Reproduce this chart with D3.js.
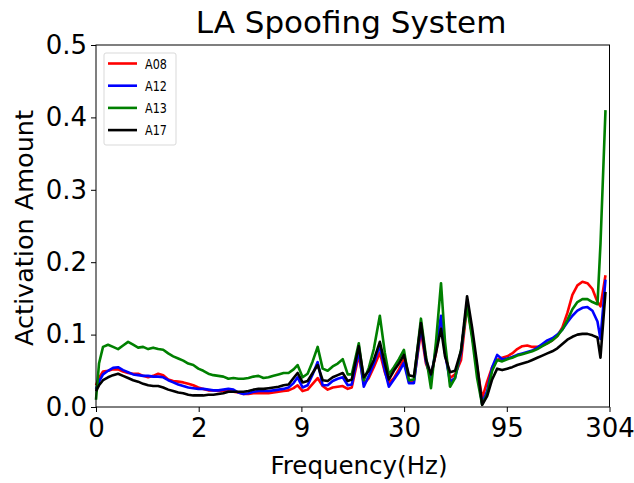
<!DOCTYPE html>
<html><head><meta charset="utf-8">
<script src="https://cdn.jsdelivr.net/npm/d3@7"></script>
<style>body{margin:0;background:#fff}svg{display:block}text{font-family:"DejaVu Sans",sans-serif;fill:#000}</style>
</head><body><svg id="c" width="634" height="483"></svg>
<script>
const bins = [0,1.5,3.5,6,8.5,11,13.5,16,18.5,21,23.5,26,28.5,31,33.5,36,38.5,41,43.5,46,48.5,51,53.5,56,58.5,61,63.5,66,68.5,71,73.5,76,78.5,81,83.5,86,88.5,91,93.5,96,98.5,100.5,103,105.5,108,110.5,113,115.5,118,120.5,123,125.5,127.5,131,133.5,136,138.5,141.5,144,146,148.5,151,153.5,156,158.5,162,164.5,167,169.5,172,174,176.5,179,182,185,187.5,190,192.5,195,197.5,200,202.5,205,207.5,210,212.5,215,217.5,220,222.5,225,227.5,230,232.5,235,237.5,240,242.5,245,247.5,250,251.5,254];
const a08 = [0.030,0.040,0.049,0.050,0.052,0.052,0.049,0.047,0.046,0.046,0.043,0.041,0.043,0.046,0.044,0.038,0.036,0.035,0.034,0.032,0.030,0.027,0.025,0.023,0.023,0.022,0.022,0.022,0.021,0.020,0.018,0.018,0.019,0.019,0.019,0.019,0.020,0.021,0.022,0.023,0.026,0.030,0.022,0.024,0.032,0.040,0.029,0.024,0.027,0.028,0.029,0.025,0.027,0.072,0.032,0.040,0.055,0.075,0.048,0.033,0.040,0.052,0.066,0.035,0.036,0.105,0.060,0.042,0.075,0.120,0.075,0.040,0.045,0.065,0.140,0.100,0.055,0.012,0.035,0.055,0.065,0.068,0.070,0.074,0.080,0.084,0.085,0.083,0.083,0.085,0.088,0.092,0.098,0.110,0.130,0.155,0.168,0.173,0.171,0.163,0.145,0.139,0.182];
const a12 = [0.025,0.035,0.045,0.050,0.054,0.055,0.051,0.048,0.045,0.044,0.043,0.043,0.042,0.042,0.041,0.037,0.034,0.031,0.029,0.027,0.026,0.025,0.025,0.024,0.023,0.023,0.024,0.025,0.024,0.020,0.018,0.019,0.021,0.022,0.022,0.022,0.023,0.024,0.025,0.027,0.033,0.041,0.027,0.030,0.045,0.062,0.030,0.030,0.036,0.039,0.041,0.030,0.031,0.078,0.028,0.043,0.060,0.085,0.050,0.028,0.038,0.048,0.061,0.033,0.033,0.112,0.063,0.040,0.080,0.126,0.075,0.035,0.040,0.075,0.145,0.100,0.050,0.005,0.022,0.055,0.072,0.066,0.067,0.069,0.072,0.074,0.076,0.078,0.082,0.087,0.092,0.095,0.100,0.107,0.117,0.126,0.133,0.137,0.138,0.133,0.118,0.094,0.176];
const a13 = [0.010,0.060,0.083,0.086,0.083,0.080,0.085,0.090,0.086,0.082,0.083,0.080,0.082,0.080,0.079,0.074,0.070,0.067,0.064,0.060,0.058,0.053,0.050,0.046,0.044,0.043,0.042,0.039,0.040,0.039,0.039,0.040,0.042,0.043,0.040,0.041,0.043,0.045,0.047,0.047,0.052,0.058,0.041,0.046,0.063,0.083,0.053,0.050,0.056,0.060,0.066,0.045,0.045,0.088,0.037,0.054,0.080,0.126,0.075,0.045,0.055,0.066,0.079,0.037,0.038,0.122,0.070,0.026,0.090,0.171,0.090,0.028,0.040,0.079,0.140,0.095,0.040,0.003,0.018,0.050,0.065,0.063,0.066,0.068,0.071,0.073,0.075,0.077,0.080,0.084,0.088,0.092,0.098,0.107,0.120,0.135,0.145,0.149,0.149,0.145,0.142,0.225,0.410];
const a17 = [0.022,0.030,0.037,0.041,0.044,0.046,0.043,0.040,0.037,0.035,0.032,0.030,0.029,0.029,0.027,0.024,0.022,0.020,0.019,0.017,0.016,0.016,0.016,0.017,0.017,0.018,0.019,0.021,0.021,0.021,0.021,0.022,0.024,0.025,0.025,0.026,0.027,0.028,0.030,0.031,0.040,0.047,0.034,0.036,0.047,0.058,0.037,0.036,0.041,0.044,0.047,0.036,0.038,0.084,0.041,0.050,0.065,0.090,0.060,0.038,0.050,0.060,0.072,0.044,0.042,0.116,0.066,0.045,0.075,0.108,0.070,0.048,0.050,0.078,0.153,0.110,0.060,0.003,0.015,0.038,0.053,0.051,0.053,0.055,0.058,0.060,0.062,0.065,0.068,0.071,0.074,0.077,0.081,0.087,0.093,0.097,0.100,0.101,0.101,0.099,0.096,0.068,0.159];
const seriesNames = ["A08","A12","A13","A17"];
const seriesColors = ["#ff0000","#0000ff","#008000","#000000"];
const xTickPos = [0,51.2,102.4,153.6,204.8,256];
const xTickLabels = ["0","2","9","30","95","304"];
const yTicks = [0,0.1,0.2,0.3,0.4,0.5];

const svg = d3.select("#c");
const L=96,R=609.5,T=45,B=407;
const x = d3.scaleLinear().domain([0,256]).range([L,R]);
const y = d3.scaleLinear().domain([0,0.5]).range([B,T]);

const xa = svg.append("g").attr("transform",`translate(0,${B})`)
  .call(d3.axisBottom(x).tickValues(xTickPos).tickFormat((d,i)=>xTickLabels[i]).tickSize(5).tickPadding(7));
const ya = svg.append("g").attr("transform",`translate(${L},0)`)
  .call(d3.axisLeft(y).tickValues(yTicks).tickFormat(d3.format(".1f")).tickSize(5).tickPadding(4));
[xa,ya].forEach(a=>{a.select(".domain").remove();a.selectAll("line").attr("stroke","#000").attr("stroke-width",1);
  a.selectAll("text").style("font-size","26px").attr("font-family","DejaVu Sans").attr("fill","#000");});

const data = [a08,a12,a13,a17];
const line = d3.line().x((d,i)=>x(bins[i])).y(d=>y(d));
data.forEach((s,i)=>{
  svg.append("path").datum(s).attr("d",line).attr("fill","none")
    .attr("stroke",seriesColors[i]).attr("stroke-width",2.6).attr("stroke-linejoin","round");
});

svg.append("rect").attr("x",L).attr("y",T).attr("width",R-L).attr("height",B-T)
  .attr("fill","none").attr("stroke","#000").attr("stroke-width",1);

function txt(xp,yp,s,size,rot){
  return svg.append("text").text(s).style("font-size",size+"px").attr("text-anchor","middle")
    .attr("transform",`translate(${xp},${yp})`+(rot?` rotate(${rot})`:""));
}
txt(351,33,"LA Spoofing System",31);
txt(359,474,"Frequency(Hz)",24.5);
txt(33,228,"Activation Amount",25.5,-90);

const lg = svg.append("g");
lg.append("rect").attr("x",104).attr("y",53).attr("width",72).attr("height",92).attr("rx",2)
  .attr("fill","#fff").attr("stroke","#d9d9d9").attr("stroke-width",1);
seriesNames.forEach((n,i)=>{
  const yy = 63.5 + i*22.2;
  lg.append("line").attr("x1",108).attr("x2",137).attr("y1",yy).attr("y2",yy)
    .attr("stroke",seriesColors[i]).attr("stroke-width",2.6);
  lg.append("text").text(n).style("font-size","14px").attr("text-anchor","start")
    .attr("transform",`translate(145,${yy+5}) scale(0.8,1)`);
});
</script></body></html>
